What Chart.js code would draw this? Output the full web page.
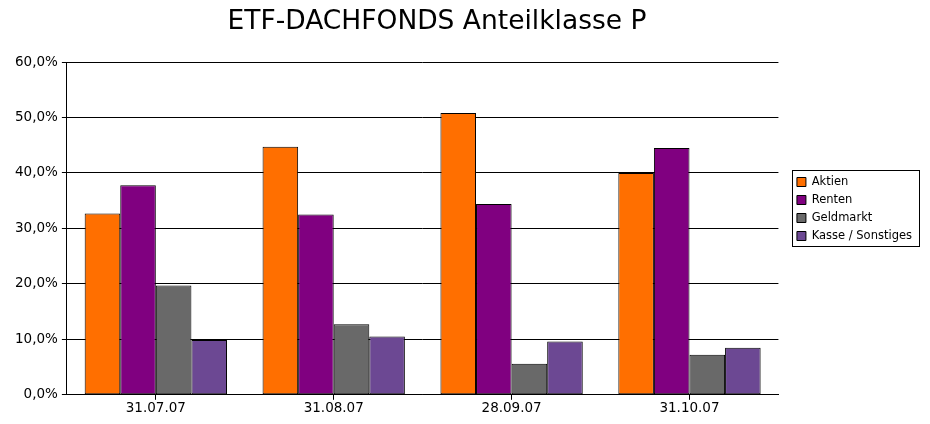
<!DOCTYPE html>
<html lang="de">
<head>
    <meta charset="UTF-8">
    <title>ETF-DACHFONDS Anteilklasse P</title>
    <script src="https://cdn.jsdelivr.net/npm/chart.js"></script>
    <style>
        html, body { margin: 0; padding: 0; background: #fff; }
        #wrap { width: 930px; height: 424px; }
    </style>
</head>
<body>
    <div id="wrap"><canvas id="chart"></canvas></div>

    <script>
        const dates = ['31.07.07', '31.08.07', '28.09.07', '31.10.07'];
        const aktien = [32.7, 44.7, 50.8, 40.0];
        const renten = [37.8, 32.5, 34.4, 44.5];
        const geldmarkt = [19.7, 12.7, 5.6, 7.2];
        const kasse = [9.9, 10.5, 9.6, 8.5];

        const font = 'DejaVu Sans, Verdana, sans-serif';
        const titleText = 'ETF-DACHFONDS Anteilklasse P';
        const legendExtra = 10;   // extra width given to the legend box
        const legendShift = 12;   // move legend right by this
        const legendLift = 31;    // and up by this

        // title sits a bit left of the page centre, so draw it ourselves
        const titlePlugin = {
            id: 'titlePlugin',
            afterDraw(chart) {
                const ctx = chart.ctx;
                ctx.save();
                ctx.fillStyle = '#000';
                ctx.font = '26.5px ' + font;
                ctx.textAlign = 'center';
                ctx.textBaseline = 'alphabetic';
                ctx.fillText(titleText, 437, 29);
                ctx.restore();
            }
        };

        // leave a gap between plot and legend, then frame the legend
        const legendFrame = {
            id: 'legendFrame',
            beforeInit(chart) {
                const fit = chart.legend.fit;
                chart.legend.fit = function () {
                    fit.call(this);
                    this.width += legendExtra;
                };
            },
            afterLayout(chart) {
                const lg = chart.legend;
                lg.left += legendShift;
                lg.right += legendShift;
                lg.top -= legendLift;
                lg.bottom -= legendLift;
            },
            afterDraw(chart) {
                const boxes = chart.legend.legendHitBoxes;
                if (!boxes || !boxes.length) return;
                let x1 = Infinity, y1 = Infinity, x2 = -Infinity, y2 = -Infinity;
                boxes.forEach(b => {
                    x1 = Math.min(x1, b.left); y1 = Math.min(y1, b.top);
                    x2 = Math.max(x2, b.left + b.width); y2 = Math.max(y2, b.top + b.height);
                });
                const ctx = chart.ctx;
                ctx.save();
                ctx.strokeStyle = '#000';
                ctx.lineWidth = 1;
                ctx.strokeRect(Math.round(x1 - 5) + 0.5, Math.round(y1 - 6) + 0.5,
                               Math.round(x2 - x1 + 12), Math.round(y2 - y1 + 10));
                ctx.restore();
            }
        };

        const bar = (label, data, color) => ({
            label, data,
            backgroundColor: color,
            borderColor: '#000',
            borderWidth: 1,
            borderSkipped: false
        });

        new Chart(document.getElementById('chart'), {
            type: 'bar',
            data: {
                labels: dates,
                datasets: [
                    bar('Aktien', aktien, '#FF6F00'),
                    bar('Renten', renten, '#800080'),
                    bar('Geldmarkt', geldmarkt, '#696969'),
                    bar('Kasse / Sonstiges', kasse, '#6C4893')
                ]
            },
            options: {
                responsive: true,
                maintainAspectRatio: false,
                animation: false,
                layout: { padding: { left: 11, right: 10, top: 62, bottom: 6 } },
                datasets: { bar: { categoryPercentage: 0.8, barPercentage: 1.0 } },
                plugins: {
                    title: { display: false },
                    legend: {
                        position: 'right',
                        labels: {
                            color: '#000',
                            boxWidth: 9,
                            boxHeight: 9,
                            padding: 6.5,
                            font: { family: font, size: 11.5 }
                        }
                    },
                    tooltip: { enabled: false }
                },
                scales: {
                    x: {
                        grid: { drawOnChartArea: false, offset: false, color: '#000', tickLength: 5 },
                        border: { color: '#000' },
                        ticks: { color: '#000', font: { family: font, size: 13.5 }, padding: 1 }
                    },
                    y: {
                        min: 0,
                        max: 60,
                        grid: { color: '#000', tickLength: 5 },
                        border: { color: '#000' },
                        ticks: {
                            stepSize: 10,
                            color: '#000',
                            padding: 4,
                            font: { family: font, size: 13.5 },
                            callback: v => v.toFixed(1).replace('.', ',') + '%'
                        }
                    }
                }
            },
            plugins: [titlePlugin, legendFrame]
        });
    </script>
</body>
</html>
